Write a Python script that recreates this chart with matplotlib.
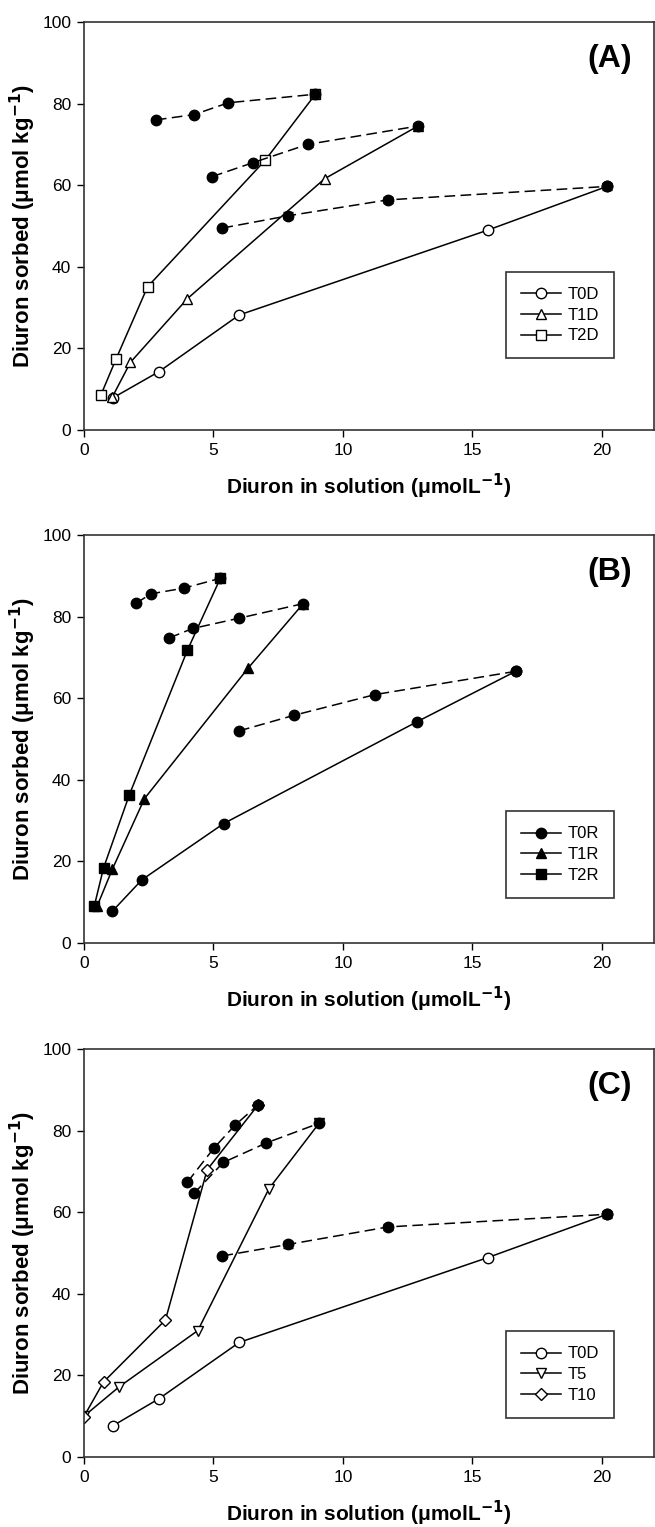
import matplotlib
matplotlib.use("Agg")
import matplotlib.pyplot as plt
from matplotlib.lines import Line2D

plt.rcParams['font.family'] = ['Liberation Sans', 'DejaVu Sans']

# panel A - sorption
a_t0d_x = [1.13, 2.9, 6.0, 15.6, 20.2]
a_t0d_y = [7.9, 14.3, 28.2, 49.0, 59.7]
a_t1d_x = [1.1, 1.8, 4.0, 9.3, 12.9]
a_t1d_y = [8.1, 16.6, 32.2, 61.6, 74.5]
a_t2d_x = [0.66, 1.25, 2.46, 7.0, 8.94]
a_t2d_y = [8.6, 17.5, 35.1, 66.1, 82.3]
# panel A - desorption (dashed)
a_des_x = [[2.78, 4.25, 5.58, 8.94],
           [4.95, 6.52, 8.64, 12.9],
           [5.35, 7.88, 11.74, 20.2]]
a_des_y = [[76.0, 77.3, 80.2, 82.3],
           [62.1, 65.5, 70.0, 74.5],
           [49.5, 52.5, 56.4, 59.7]]
a_des_err = [[0.5, 0.5, 0.4, 0.8],
             [0.4, 0.5, 0.6, 0.7],
             [0.5, 0.9, 0.8, 0.8]]

# panel B
b_t0r_x = [1.1, 2.24, 5.4, 12.88, 16.67]
b_t0r_y = [7.8, 15.5, 29.3, 54.3, 66.6]
b_t1r_x = [0.51, 1.1, 2.34, 6.33, 8.47]
b_t1r_y = [9.0, 18.1, 35.4, 67.3, 83.2]
b_t2r_x = [0.4, 0.76, 1.76, 4.0, 5.27]
b_t2r_y = [9.0, 18.4, 36.4, 71.8, 89.4]
b_des_x = [[2.02, 2.59, 3.87, 5.27],
           [3.3, 4.2, 5.98, 8.47],
           [5.99, 8.1, 11.24, 16.67]]
b_des_y = [[83.3, 85.6, 87.0, 89.4],
           [74.8, 77.1, 79.6, 83.2],
           [52.0, 55.8, 60.9, 66.6]]
b_des_err = [[0.4, 0.4, 0.4, 0.8],
             [0.4, 0.6, 0.4, 0.5],
             [0.4, 0.4, 0.4, 0.5]]

# panel C
c_t0d_x = [1.13, 2.9, 6.0, 15.6, 20.2]
c_t0d_y = [7.7, 14.3, 28.1, 48.9, 59.5]
c_t5_x = [0.0, 1.36, 4.4, 7.15, 9.08]
c_t5_y = [10.0, 17.2, 31.0, 65.8, 81.8]
c_t10_x = [0.0, 0.76, 3.15, 4.76, 6.74]
c_t10_y = [9.9, 18.4, 33.6, 70.4, 86.4]
c_des_x = [[4.0, 5.03, 5.83, 6.74],
           [4.25, 5.38, 7.05, 9.08],
           [5.35, 7.88, 11.74, 20.2]]
c_des_y = [[67.4, 75.8, 81.3, 86.4],
           [64.6, 72.2, 77.0, 81.8],
           [49.3, 52.1, 56.4, 59.5]]
c_des_err = [[0.4, 0.5, 0.4, 0.6],
             [0.4, 0.4, 0.5, 0.5],
             [0.5, 0.9, 0.8, 0.8]]

panels = [
    ('(A)', [('T0D', 'o', 'white', a_t0d_x, a_t0d_y),
             ('T1D', '^', 'white', a_t1d_x, a_t1d_y),
             ('T2D', 's', 'white', a_t2d_x, a_t2d_y)], a_des_x, a_des_y, a_des_err, 0.155),
    ('(B)', [('T0R', 'o', 'black', b_t0r_x, b_t0r_y),
             ('T1R', '^', 'black', b_t1r_x, b_t1r_y),
             ('T2R', 's', 'black', b_t2r_x, b_t2r_y)], b_des_x, b_des_y, b_des_err, 0.09),
    ('(C)', [('T0D', 'o', 'white', c_t0d_x, c_t0d_y),
             ('T5', 'v', 'white', c_t5_x, c_t5_y),
             ('T10', 'D', 'white', c_t10_x, c_t10_y)], c_des_x, c_des_y, c_des_err, 0.075),
]

fig = plt.figure(figsize=(6.55, 15.27), dpi=100)
bottoms = [0.7184, 0.3824, 0.0458]
ylab = 'Diuron sorbed (\u03bcmol kg$^{\\mathbf{-1}}$)'
xlab = 'Diuron in solution (\u03bcmolL$^{\\mathbf{-1}}$)'

for (letter, series, dx, dy, derr, legy), b in zip(panels, bottoms):
    ax = fig.add_axes([0.128, b, 0.87, 0.2672])
    handles = []
    for name, mk, fc, xs, ys in series:
        ms = 7.5 if mk != 'D' else 6.5
        ax.plot(xs, ys, color='black', lw=1.1, marker=mk, ms=ms,
                mfc=fc, mec='black', mew=1, zorder=2)
        handles.append(Line2D([], [], color='black', lw=1.1, marker=mk, ms=ms,
                              mfc=fc, mec='black', mew=1, label=name))
    # desorption branches (dashed, filled circles)
    for xs, ys, es in zip(dx, dy, derr):
        ax.errorbar(xs, ys, yerr=es, color='black', ls=(0, (7, 3.5)), lw=1.1,
                    marker='o', ms=7.5, mfc='black', mec='black',
                    capsize=3.5, elinewidth=1, zorder=3)
    ax.set_xlim(0, 22)
    ax.set_ylim(0, 100)
    ax.set_xticks([0, 5, 10, 15, 20])
    ax.set_yticks([0, 20, 40, 60, 80, 100])
    ax.tick_params(direction='out', length=5, width=1, labelsize=12.5, pad=4)
    for s in ax.spines.values():
        s.set_linewidth(1.2)
        s.set_color('#333333')
    ax.set_ylabel(ylab, fontsize=16, fontweight='bold', labelpad=3)
    ax.set_xlabel(xlab, fontsize=15, fontweight='bold', labelpad=10)
    ax.text(0.962, 0.91, letter, transform=ax.transAxes, ha='right', va='center',
            fontsize=23, fontweight='bold')
    leg = ax.legend(handles=handles, loc='lower right', bbox_to_anchor=(0.945, legy),
                    fontsize=12, frameon=True, fancybox=False, edgecolor='black',
                    handlelength=2.4, borderpad=0.9, labelspacing=0.35, handletextpad=0.4)
    leg.get_frame().set_linewidth(1.2)

fig.savefig('out.png', dpi=100)
